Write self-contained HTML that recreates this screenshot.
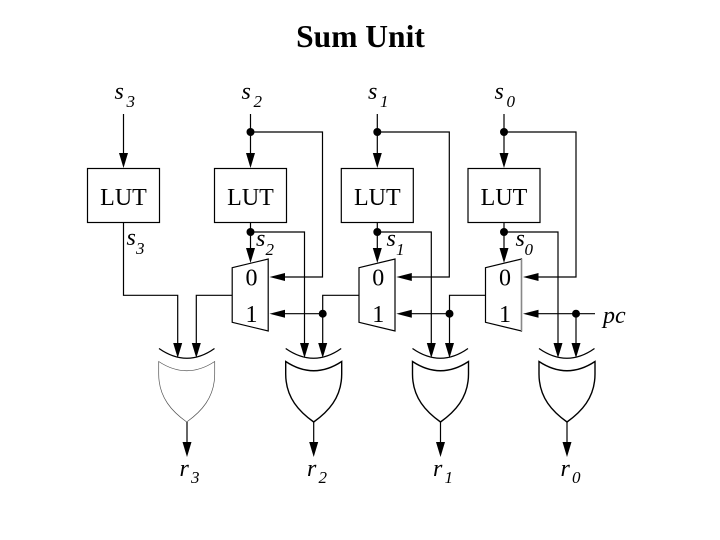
<!DOCTYPE html>
<html><head><meta charset="utf-8"><style>
html,body{margin:0;padding:0;background:#fff}
svg{display:block}
text{font-family:"Liberation Serif",serif;fill:#000}
.i{font-style:italic;font-size:24px}
.u{font-style:italic;font-size:17px}
.n{font-size:24px;text-anchor:middle}
</style></head><body>
<svg width="720" height="540" viewBox="0 0 720 540" xmlns="http://www.w3.org/2000/svg">
<defs>
<path id="ad" d="M-4.5,-15 L4.5,-15 L0,0 Z" fill="#000"/>
<path id="al" d="M0,0 L15.5,-4 L15.5,4 Z" fill="#000"/>
<path id="gate" d="M-28,-9.5 Q0,10 27.5,-9.5" fill="none" stroke="#000" stroke-width="1.2"/>
<path id="body" d="M-28,3.5 Q0,22 28,3.5 L28,16 C28,40 14,54 0,64 C-14,54 -28,40 -28,16 Z" fill="#fff"/>
<g id="col" fill="none" stroke="#000" stroke-width="1.2">
<rect x="-36" y="168.5" width="72" height="54" fill="#fff"/>
<path d="M0,114V155M0,222V250M0,132H72V277H34M0,232H54V345"/>
</g>
<path id="mux" d="M-18.5,267.7 L17.5,259 V331 L-18.5,322.3 Z" fill="#fff" stroke="#000" stroke-width="1.2"/>
</defs>

<text x="360.5" y="47" text-anchor="middle" font-weight="bold" font-size="31.5px">Sum Unit</text>

<!-- s3 column -->
<g fill="none" stroke="#000" stroke-width="1.2">
<rect x="87.5" y="168.5" width="72" height="54"/>
<path d="M123.5,114V155M123.5,222V295.3H177.7V345M232,295.3H196.3V345"/>
<path d="M359,295.3H322.7V345M485.5,295.3H449.5V345M576,313.7V345"/>
<path d="M322.7,313.7H280M449.5,313.7H407M576,313.7H534M576,313.7H595"/>
</g>
<use href="#ad" x="123.5" y="168"/>

<use href="#col" x="250.5"/><use href="#col" x="377.3"/><use href="#col" x="504"/>

<g>
<use href="#ad" x="250.5" y="168"/><use href="#ad" x="377.3" y="168"/><use href="#ad" x="504" y="168"/>
<use href="#ad" x="250.5" y="263"/><use href="#ad" x="377.3" y="263"/><use href="#ad" x="504" y="263"/>
<circle cx="250.5" cy="132" r="4"/><circle cx="377.3" cy="132" r="4"/><circle cx="504" cy="132" r="4"/>
<circle cx="250.5" cy="232" r="4"/><circle cx="377.3" cy="232" r="4"/><circle cx="504" cy="232" r="4"/>
<circle cx="322.7" cy="313.7" r="4"/><circle cx="449.5" cy="313.7" r="4"/><circle cx="576" cy="313.7" r="4"/>
</g>

<use href="#mux" x="250.7"/><use href="#mux" x="377.5"/><use href="#mux" x="504"/>
<path d="M521.5,259V331" stroke="#888" stroke-width="1.3" fill="none"/>

<use href="#al" x="269.5" y="277"/><use href="#al" x="396.3" y="277"/><use href="#al" x="523" y="277"/>
<use href="#al" x="269.5" y="313.7"/><use href="#al" x="396.3" y="313.7"/><use href="#al" x="523" y="313.7"/>

<!-- input arrows to gates -->
<g>
<use href="#ad" x="177.7" y="358"/><use href="#ad" x="196.3" y="358"/>
<use href="#ad" x="304.5" y="358"/><use href="#ad" x="322.7" y="358"/>
<use href="#ad" x="431.3" y="358"/><use href="#ad" x="449.5" y="358"/>
<use href="#ad" x="558" y="358"/><use href="#ad" x="576" y="358"/>
</g>

<!-- gates -->
<g fill="none" stroke="#000">
<use href="#gate" x="187" y="358"/><use href="#gate" x="313.7" y="358"/><use href="#gate" x="440.5" y="358"/><use href="#gate" x="567" y="358"/>
<use href="#body" x="186.7" y="358" stroke="#555" stroke-width="0.7"/>
<use href="#body" x="313.7" y="358" stroke-width="1.4"/>
<use href="#body" x="440.5" y="358" stroke-width="1.4"/>
<use href="#body" x="567" y="358" stroke-width="1.4"/>
<path stroke-width="1.2" d="M187,422V445M313.7,422V445M440.5,422V445M567,422V445"/>
</g>
<use href="#ad" x="187" y="457"/><use href="#ad" x="313.7" y="457"/><use href="#ad" x="440.5" y="457"/><use href="#ad" x="567" y="457"/>

<!-- text -->
<text class="n" x="123.5" y="205">LUT</text><text class="n" x="250.5" y="205">LUT</text><text class="n" x="377.3" y="205">LUT</text><text class="n" x="504" y="205">LUT</text>
<text class="n" x="251.5" y="285.7">0</text><text class="n" x="378.3" y="285.7">0</text><text class="n" x="505" y="285.7">0</text>
<text class="n" x="251.5" y="322">1</text><text class="n" x="378.3" y="322">1</text><text class="n" x="505" y="322">1</text>

<text class="i" x="114.5" y="99">s</text><text class="u" x="126.5" y="107">3</text>
<text class="i" x="241.5" y="99">s</text><text class="u" x="253.5" y="107">2</text>
<text class="i" x="368" y="99">s</text><text class="u" x="380" y="107">1</text>
<text class="i" x="494.5" y="99">s</text><text class="u" x="506.5" y="107">0</text>

<text class="i" x="126.5" y="245">s</text><text class="u" x="136" y="254">3</text>
<text class="i" x="256" y="246">s</text><text class="u" x="265.5" y="255">2</text>
<text class="i" x="386.5" y="246">s</text><text class="u" x="396" y="255">1</text>
<text class="i" x="515.5" y="246">s</text><text class="u" x="524.5" y="255">0</text>

<text class="i" x="603" y="323">pc</text>

<text class="i" x="179.5" y="476">r</text><text class="u" x="191" y="483">3</text>
<text class="i" x="307" y="476">r</text><text class="u" x="318.5" y="483">2</text>
<text class="i" x="433" y="476">r</text><text class="u" x="444.5" y="483">1</text>
<text class="i" x="560.5" y="476">r</text><text class="u" x="572" y="483">0</text>
</svg>
</body></html>
